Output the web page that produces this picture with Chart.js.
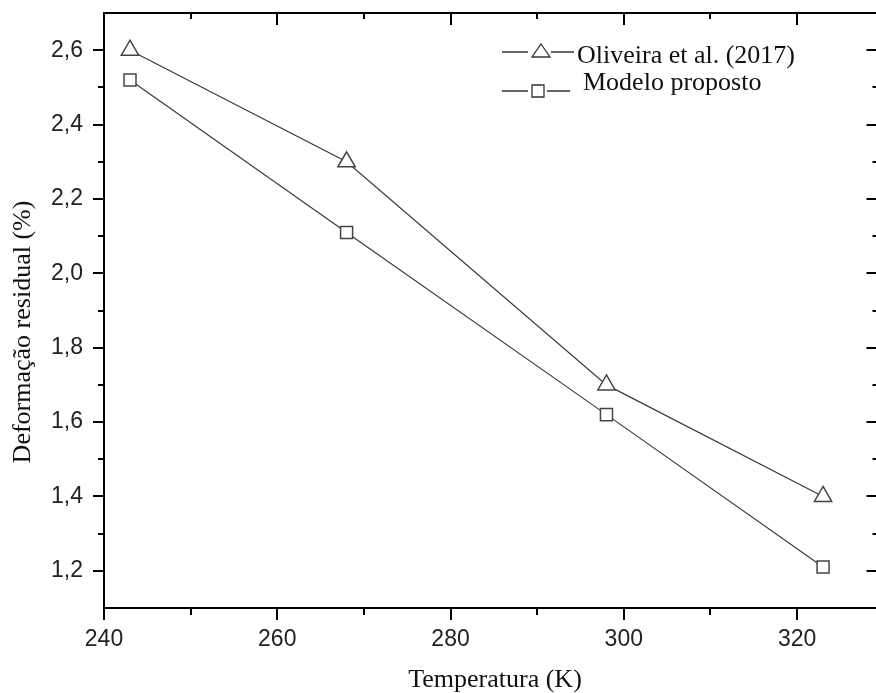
<!DOCTYPE html>
<html>
<head>
<meta charset="utf-8">
<script src="https://cdn.jsdelivr.net/npm/chart.js@4.4.1/dist/chart.umd.min.js"></script>
<style>
    html, body { margin: 0; padding: 0; background: #fff; overflow: hidden; }
    #wrap { width: 876px; height: 693px; overflow: hidden; position: relative; }
    canvas { display: block; }
</style>
</head>
<body>
<div id="wrap"><canvas id="chart" width="890" height="693" style="width:890px;height:693px"></canvas></div>
<script>
// dados
const temperaturas = [243, 268, 298, 323];
const oliveira = [2.60, 2.30, 1.70, 1.40];
const modelo = [2.52, 2.11, 1.62, 1.21];

const xTicks = [240, 260, 280, 300, 320];
const xMinor = [250, 270, 290, 310];
const yTicks = [1.2, 1.4, 1.6, 1.8, 2.0, 2.2, 2.4, 2.6];
const yMinor = [1.3, 1.5, 1.7, 1.9, 2.1, 2.3, 2.5];

const legendLabels = ['Oliveira et al. (2017)', 'Modelo proposto'];
const xTitle = 'Temperatura (K)';
const yTitle = 'Deformação residual (%)';

const serif = "'Liberation Serif', 'Times New Roman', serif";
const sans = "'Liberation Sans', Arial, sans-serif";

const toPoints = (ys) => temperaturas.map((t, i) => ({ x: t, y: ys[i] }));

// sem padding extra das escalas, a área fica onde o layout manda
const noPad = (scale) => {
    scale.paddingTop = 0;
    scale.paddingBottom = 0;
    scale.paddingLeft = 0;
    scale.paddingRight = 0;
};

// eixos em moldura, ticks e legenda no estilo Origin
const framePlugin = {
    id: 'frame',
    afterDraw(chart) {
        const ctx = chart.ctx;
        const xs = chart.scales.x;
        const ys = chart.scales.y;
        const { left, right, top, bottom } = chart.chartArea;

        ctx.save();
        ctx.strokeStyle = '#000';
        ctx.lineWidth = 2;
        ctx.beginPath();
        ctx.moveTo(left, top); ctx.lineTo(right, top);
        ctx.moveTo(left, bottom); ctx.lineTo(right, bottom);
        ctx.moveTo(left, top - 1); ctx.lineTo(left, bottom + 1);
        ctx.moveTo(right, top - 1); ctx.lineTo(right, bottom + 1);
        ctx.stroke();

        const tick = (x1, y1, x2, y2) => { ctx.moveTo(x1, y1); ctx.lineTo(x2, y2); };
        ctx.beginPath();
        xTicks.forEach(v => {
            const px = Math.round(xs.getPixelForValue(v));
            tick(px, bottom, px, bottom + 12);
            tick(px, top, px, top + 12);
        });
        xMinor.forEach(v => {
            const px = Math.round(xs.getPixelForValue(v));
            tick(px, bottom, px, bottom + 7);
            tick(px, top, px, top + 6);
        });
        yTicks.forEach(v => {
            const py = Math.round(ys.getPixelForValue(v));
            tick(left - 11, py, left, py);
            tick(right - 12, py, right, py);
        });
        yMinor.forEach(v => {
            const py = Math.round(ys.getPixelForValue(v));
            tick(left - 6, py, left, py);
            tick(right - 6, py, right, py);
        });
        ctx.stroke();

        // títulos
        ctx.fillStyle = '#111';
        ctx.font = '26px ' + serif;
        ctx.textAlign = 'center';
        ctx.textBaseline = 'alphabetic';
        ctx.fillText(xTitle, 495, 687);
        ctx.save();
        ctx.translate(30, 332);
        ctx.rotate(-Math.PI / 2);
        ctx.fillText(yTitle, 0, 0);
        ctx.restore();

        // legenda
        ctx.strokeStyle = '#333';
        ctx.lineWidth = 1.3;
        ctx.textAlign = 'left';
        const rows = [
            { y: 52, text: legendLabels[0], tx: 577, ty: 63, shape: 'triangle', d2: [551, 574] },
            { y: 91, text: legendLabels[1], tx: 583, ty: 90, shape: 'square', d2: [547, 570] }
        ];
        rows.forEach(r => {
            ctx.beginPath();
            ctx.moveTo(502, r.y); ctx.lineTo(528, r.y);
            ctx.moveTo(r.d2[0], r.y); ctx.lineTo(r.d2[1], r.y);
            ctx.stroke();
            ctx.beginPath();
            if (r.shape === 'triangle') {
                ctx.moveTo(541, r.y - 8);
                ctx.lineTo(550, r.y + 5);
                ctx.lineTo(532, r.y + 5);
                ctx.closePath();
            } else {
                ctx.rect(532, r.y - 6, 12, 12);
            }
            ctx.stroke();
            ctx.fillText(r.text, r.tx, r.ty);
        });
        ctx.restore();
    }
};

const commonSet = {
    borderColor: '#3a3a3a',
    borderWidth: 1.2,
    fill: false,
    tension: 0,
    pointBackgroundColor: '#fff',
    pointBorderColor: '#444',
    pointBorderWidth: 1.5
};

new Chart(document.getElementById('chart').getContext('2d'), {
    type: 'line',
    data: {
        datasets: [
            Object.assign({ label: legendLabels[0], data: toPoints(oliveira), pointStyle: 'triangle', pointRadius: 10 }, commonSet),
            Object.assign({ label: legendLabels[1], data: toPoints(modelo), pointStyle: 'rect', pointRadius: 8.5 }, commonSet)
        ]
    },
    options: {
        responsive: false,
        animation: false,
        devicePixelRatio: 1,
        layout: { padding: { top: 13, right: 11, left: 0, bottom: 0 } },
        plugins: {
            legend: { display: false },
            tooltip: { enabled: false }
        },
        scales: {
            x: {
                type: 'linear',
                min: 240,
                max: 329.4,
                afterBuildTicks: (scale) => { scale.ticks = xTicks.map(v => ({ value: v })); },
                afterFit: (scale) => { scale.height = 85; noPad(scale); },
                grid: { display: false, drawTicks: false },
                border: { display: false },
                ticks: {
                    color: '#222',
                    padding: 18,
                    maxRotation: 0,
                    font: { size: 23, family: sans },
                    callback: (v) => String(v)
                }
            },
            y: {
                type: 'linear',
                min: 1.1,
                max: 2.7,
                afterBuildTicks: (scale) => { scale.ticks = yTicks.map(v => ({ value: v })); },
                afterFit: (scale) => { scale.width = 104; noPad(scale); },
                grid: { display: false, drawTicks: false },
                border: { display: false },
                ticks: {
                    color: '#222',
                    padding: 21,
                    font: { size: 23, family: sans },
                    callback: (v) => Number(v).toFixed(1).replace('.', ',')
                }
            }
        }
    },
    plugins: [framePlugin]
});
</script>
</body>
</html>
